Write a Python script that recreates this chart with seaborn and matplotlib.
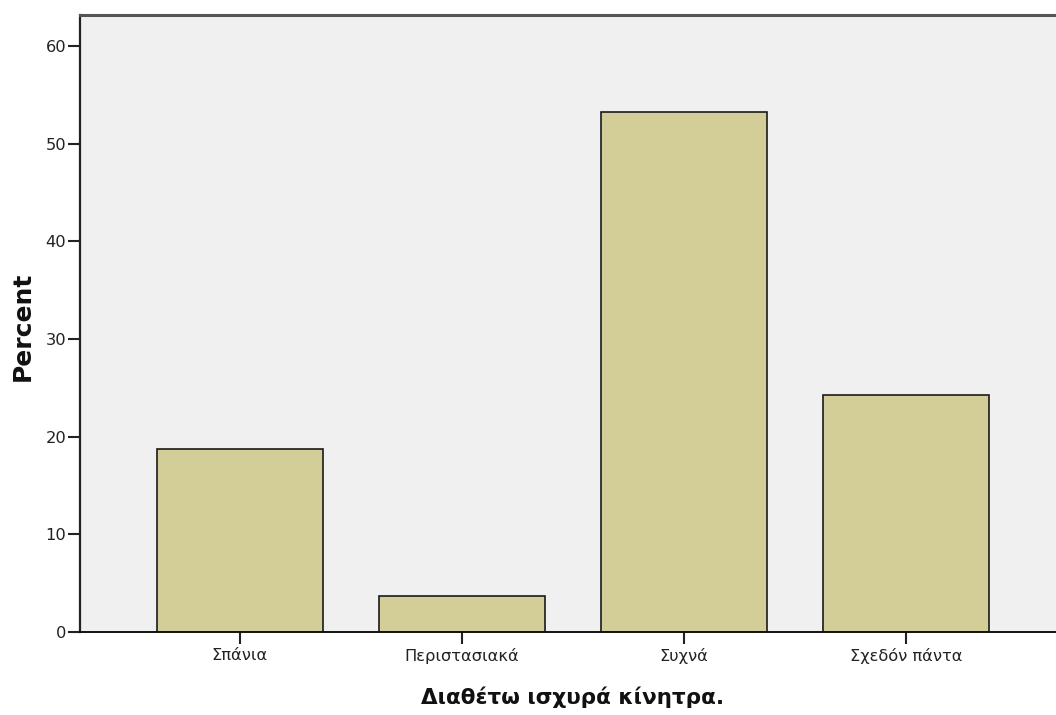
import matplotlib
matplotlib.use("Agg")
import matplotlib.pyplot as plt
import seaborn as sns
import pandas as pd

categories = ["Σπάνια", "Περιστασιακά", "Συχνά", "Σχεδόν πάντα"]
percent = [18.7, 3.7, 53.3, 24.3]
y_ticks = [0, 10, 20, 30, 40, 50, 60]

df = pd.DataFrame({"cat": categories, "pct": percent})

sns.set_style("white")
plt.rcParams["font.family"] = ["DejaVu Sans"]

fig = plt.figure(figsize=(10.56, 7.15), dpi=100)
ax = fig.add_axes([80 / 1056, 83 / 715, 976 / 1056, 617 / 715])
ax.set_facecolor("#F0F0F0")

sns.barplot(data=df, x="cat", y="pct", order=categories, color="#D3CE97",
            saturation=1, width=0.75, edgecolor="#1a1a1a", linewidth=1.2, ax=ax)

ax.set_xlim(-0.72, 3.676)
ax.set_ylim(0, 63.2)
ax.set_yticks(y_ticks)
ax.set_yticklabels([str(v) for v in y_ticks])

ax.spines["right"].set_visible(False)
ax.spines["left"].set_color("#222222")
ax.spines["left"].set_linewidth(1.6)
ax.spines["bottom"].set_color("#111111")
ax.spines["bottom"].set_linewidth(1.4)
ax.spines["top"].set_color("#555555")
ax.spines["top"].set_linewidth(2.2)

ax.tick_params(axis="both", direction="out", length=8.5, width=1.5,
               color="#222222", labelsize=11.7, labelcolor="#222222", pad=1.5,
               left=True, bottom=True)
ax.tick_params(axis="x", pad=3)

ax.set_xlabel("Διαθέτω ισχυρά κίνητρα.", fontsize=15.5, fontweight="bold",
              color="#111111", va="center")
ax.xaxis.set_label_coords(0.505, -0.105)
ax.set_ylabel("Percent", fontsize=18, fontweight="bold", color="#111111",
              va="center")
ax.yaxis.set_label_coords(-0.0584, 0.495)

fig.savefig("out.png", dpi=100, facecolor="white")
